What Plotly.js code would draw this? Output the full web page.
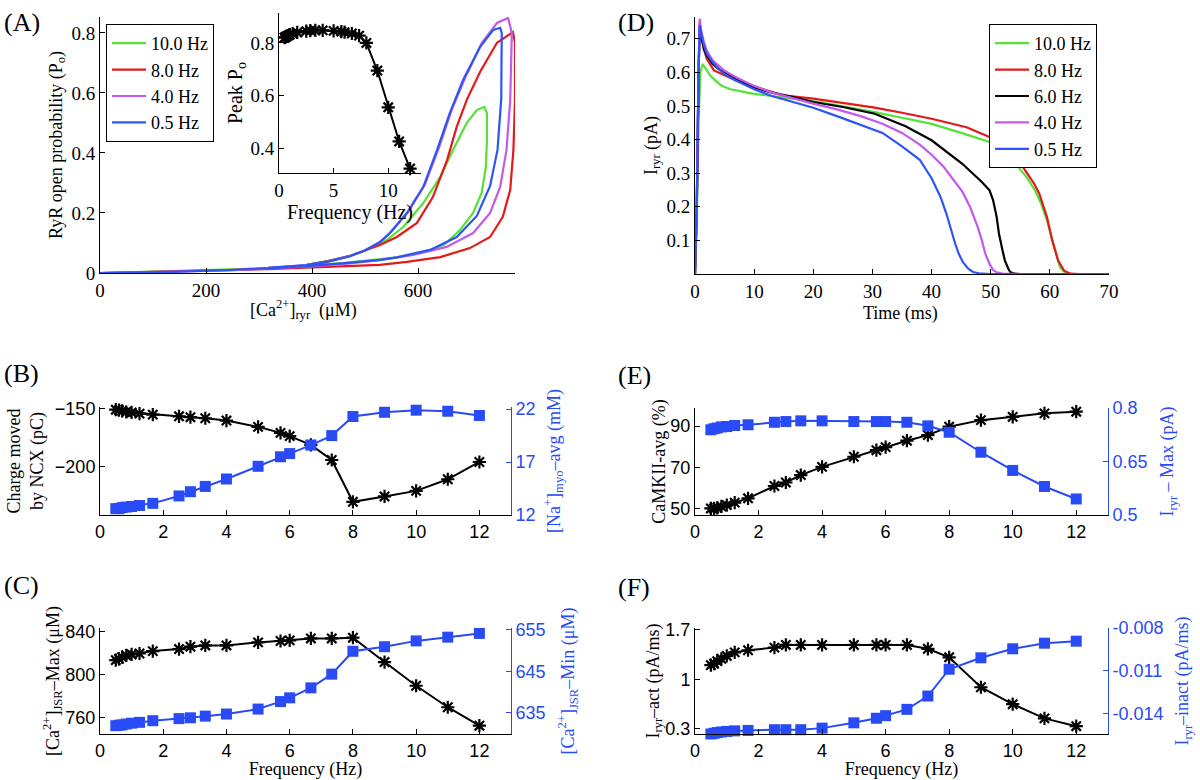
<!DOCTYPE html>
<html><head><meta charset="utf-8">
<script src="https://cdn.plot.ly/plotly-3.0.1.min.js"></script>
<style>body{margin:0;background:#fff}#g{width:1200px;height:780px}</style>
</head><body><div id="g"></div>
<script>
// ---------- DATA ----------
const legendHz = ['10.0 Hz','8.0 Hz','4.0 Hz','0.5 Hz'];
const legendHzD = ['10.0 Hz','8.0 Hz','6.0 Hz','4.0 Hz','0.5 Hz'];

// Panel A loops: [Ca2+]ryr (uM) vs Po
const caA_10 = [0,317,462,528,560,623,650,679,704,720,728,730,730,725,711,692,666,642,610,572,541,520,500,470,430,390];
const poA_10 = [0,0.016,0.034,0.045,0.052,0.077,0.095,0.143,0.2,0.267,0.353,0.44,0.533,0.553,0.543,0.5,0.41,0.32,0.233,0.153,0.11,0.09,0.075,0.056,0.04,0.027];
const caA_8 = [0,172,317,390,462,528,579,642,698,736,760,774,780,783,783,779,749,717,692,673,655,628,598,560,528,500,470,430,390];
const poA_8 = [0,0.006,0.013,0.018,0.023,0.027,0.037,0.053,0.083,0.12,0.187,0.277,0.41,0.577,0.767,0.803,0.767,0.67,0.577,0.487,0.377,0.253,0.167,0.12,0.093,0.075,0.056,0.04,0.027];
const caA_4 = [0,136,245,317,390,462,528,591,654,704,736,755,767,774,777,770,749,720,690,664,640,613,582,550,530,500,470,430,390,317];
const poA_4 = [0,0.004,0.009,0.015,0.021,0.03,0.043,0.06,0.087,0.133,0.2,0.287,0.41,0.577,0.8,0.85,0.833,0.765,0.655,0.545,0.42,0.295,0.205,0.138,0.105,0.076,0.056,0.038,0.026,0.017];
const caA_05 = [0,136,245,317,390,462,528,560,623,673,711,736,750,757,758,755,742,717,685,660,636,610,579,547,528,500,470,430,390,317];
const poA_05 = [0,0.004,0.01,0.016,0.023,0.033,0.044,0.052,0.077,0.12,0.19,0.29,0.41,0.58,0.8,0.817,0.81,0.753,0.643,0.533,0.41,0.287,0.2,0.133,0.103,0.075,0.055,0.038,0.026,0.017];

// Inset: peak Po vs frequency
const freq = [0.5,0.6,0.7,0.83,1,1.25,1.67,2.5,2.86,3.33,4,5,5.71,6,6.67,7.33,8,9,10,11,12];
const peakPo = [0.82,0.822,0.825,0.828,0.832,0.836,0.84,0.845,0.847,0.848,0.848,0.846,0.843,0.841,0.836,0.828,0.80,0.695,0.555,0.425,0.322];

// Panel D: Iryr (pA) vs time (ms)
const tD_10 = [0,0.3,0.6,0.9,1.3,1.8,2.6,3.5,4.5,6,8,9.7,12,14.9,20,25,30.4,35,40,45,49.8,52.4,54,54.9,56,57.5,58.5,59.5,60.8,61.7,62.5,63.5,70];
const iD_10 = [0,0.15,0.45,0.6,0.625,0.61,0.59,0.575,0.56,0.55,0.542,0.537,0.532,0.525,0.515,0.5,0.482,0.465,0.447,0.42,0.393,0.363,0.335,0.313,0.29,0.249,0.21,0.16,0.08,0.02,0.005,0,0];
const tD_8 = [0,0.3,0.6,0.8,1,1.5,2,3.2,5.2,7,9.7,12,14.9,20,25,30.4,35,40,45.9,49.8,52,53.6,55,56.2,57.3,58.2,59,59.5,60.4,61.4,62.4,63.5,65,70];
const iD_8 = [0,0.2,0.6,0.75,0.72,0.67,0.64,0.606,0.59,0.575,0.56,0.547,0.532,0.522,0.51,0.495,0.48,0.462,0.437,0.408,0.385,0.358,0.33,0.3,0.27,0.24,0.2,0.17,0.1,0.04,0.01,0.001,0,0];
const tD_6 = [0,0.3,0.6,0.8,1,1.5,2,3,4,5,7,10,13,17,20,25,30.4,35.6,40,45.2,48.5,49.8,50.4,51,51.4,52,52.4,53,53.3,54,55,70];
const iD_6 = [0,0.2,0.6,0.73,0.71,0.67,0.65,0.625,0.61,0.6,0.58,0.555,0.54,0.525,0.512,0.497,0.477,0.44,0.398,0.328,0.274,0.249,0.22,0.17,0.12,0.07,0.04,0.015,0.006,0.001,0,0];
const tD_4 = [0,0.3,0.6,0.8,1,1.5,2,3,4,5,7,10,13,16,20,24,28,31.7,35,38,40,42,44,45.2,46.5,47.8,48.5,49.1,49.8,50.4,51,52,55,70];
const iD_4 = [0,0.2,0.62,0.76,0.73,0.69,0.665,0.635,0.62,0.605,0.585,0.56,0.54,0.525,0.507,0.49,0.47,0.447,0.42,0.385,0.355,0.32,0.275,0.245,0.2,0.14,0.1,0.06,0.03,0.012,0.005,0.001,0,0];
const tD_05 = [0,0.3,0.6,0.8,1,1.5,2,3,4,5,7,10,13,16,20,24,28,31.7,35,38,40,41.5,42.5,43.3,44,44.6,45.3,46.2,47,48,50,70];
const iD_05 = [0,0.2,0.6,0.74,0.72,0.68,0.655,0.63,0.61,0.595,0.575,0.55,0.53,0.515,0.495,0.47,0.445,0.42,0.38,0.34,0.285,0.23,0.18,0.13,0.09,0.06,0.035,0.016,0.006,0.002,0,0];

// Panel B
const chargeNCX = [-150.6,-151,-151.7,-152.6,-153,-154,-154.9,-156.3,-157.1,-158,-160,-165.4,-170.6,-173.4,-180.9,-194,-230,-225.4,-220.6,-210.6,-195.7];
const naMyoAvg = [12.6,12.6,12.7,12.75,12.8,12.9,13.1,13.8,14.2,14.7,15.4,16.6,17.5,17.8,18.6,19.5,21.3,21.7,21.9,21.8,21.4];
// Panel E
const camkiiAvg = [50,50,50.3,51,51.6,52.8,54.9,60.9,62.6,66.2,70.2,75.1,78.3,79.8,82.9,85.6,89.7,92.9,94.5,96.2,97];
const iryrMax = [0.739,0.742,0.744,0.747,0.748,0.751,0.753,0.760,0.762,0.764,0.764,0.762,0.762,0.762,0.760,0.750,0.732,0.676,0.625,0.580,0.545];
// Panel C
const caJsrMax = [813.8,815,816.6,818.2,819.1,820,822.2,824.1,826.3,827.5,827.5,830.3,831.6,832.2,834,834,834.7,812,790,770,752.8];
const caJsrMin = [631.9,632,632.1,632.3,632.5,632.7,633.1,633.6,633.8,634.2,634.7,635.9,637.7,638.6,641,644.3,649.8,650.9,652.3,653.2,654.1];
// Panel F
const iryrAct = [1.2,1.22,1.256,1.29,1.33,1.38,1.41,1.447,1.485,1.485,1.485,1.485,1.485,1.485,1.485,1.43,1.31,0.888,0.649,0.448,0.338];
const iryrInact = [-0.0154,-0.01535,-0.0153,-0.01526,-0.01522,-0.01518,-0.01515,-0.0151,-0.0151,-0.0151,-0.01499,-0.01462,-0.0143,-0.01412,-0.01368,-0.01275,-0.01088,-0.01008,-0.00945,-0.00906,-0.00892];

// ---------- STYLE ----------
const SERIF = 'Liberation Serif, Times New Roman, serif';
const SANS = 'Liberation Sans, Arial, sans-serif';
const GREEN = 'rgb(85,225,55)', RED = 'rgb(230,25,25)', PURPLE = 'rgb(195,90,235)', BLUE = 'rgb(45,85,245)', BLACK = '#000';
const SQBLUE = 'rgb(40,75,245)';

const traces = [];
function line(x, y, color, name, xa, ya, legend) {
  traces.push({x, y, type:'scatter', mode:'lines', name: name || '', line:{color, width:2.2},
    xaxis:xa, yaxis:ya, showlegend: !!legend, legend: legend || 'legend', hoverinfo:'skip'});
}
function starLine(x, y, xa, ya) {
  traces.push({x, y, type:'scatter', mode:'lines+markers', line:{color:BLACK, width:2},
    marker:{symbol:'asterisk-open', size:11, line:{color:BLACK, width:2.2}},
    xaxis:xa, yaxis:ya, showlegend:false, cliponaxis:false, hoverinfo:'skip'});
}
function sqLine(x, y, xa, ya) {
  traces.push({x, y, type:'scatter', mode:'lines+markers', line:{color:SQBLUE, width:2},
    marker:{symbol:'square', size:11, color:SQBLUE},
    xaxis:xa, yaxis:ya, showlegend:false, cliponaxis:false, hoverinfo:'skip'});
}

// A
line(caA_10, poA_10, GREEN, legendHz[0], 'x', 'y', 'legend');
line(caA_8, poA_8, RED, legendHz[1], 'x', 'y', 'legend');
line(caA_4, poA_4, PURPLE, legendHz[2], 'x', 'y', 'legend');
line(caA_05, poA_05, BLUE, legendHz[3], 'x', 'y', 'legend');
// inset
starLine(freq, peakPo, 'x2', 'y2');
// D
line(tD_10, iD_10, GREEN, legendHzD[0], 'x3', 'y3', 'legend2');
line(tD_8, iD_8, RED, legendHzD[1], 'x3', 'y3', 'legend2');
line(tD_6, iD_6, BLACK, legendHzD[2], 'x3', 'y3', 'legend2');
line(tD_4, iD_4, PURPLE, legendHzD[3], 'x3', 'y3', 'legend2');
line(tD_05, iD_05, BLUE, legendHzD[4], 'x3', 'y3', 'legend2');
// B
sqLine(freq, naMyoAvg, 'x4', 'y5');
starLine(freq, chargeNCX, 'x4', 'y4');
// E
sqLine(freq, iryrMax, 'x5', 'y7');
starLine(freq, camkiiAvg, 'x5', 'y6');
// C
sqLine(freq, caJsrMin, 'x6', 'y9');
starLine(freq, caJsrMax, 'x6', 'y8');
// F
sqLine(freq, iryrInact, 'x7', 'y11');
starLine(freq, iryrAct, 'x7', 'y10');

const W = 1200, H = 780;
const dx = (a, b) => [a / W, b / W];
const dy = (top, bottom) => [1 - bottom / H, 1 - top / H];

function ax(domain, o) {
  return Object.assign({domain, showline:true, linecolor:'black', linewidth:1, ticks:'inside', ticklen:5,
    tickcolor:'black', showgrid:false, zeroline:false, mirror:false, fixedrange:true, automargin:false}, o);
}
const serifTick = {family:SERIF, size:19, color:'black'};
const sansTick = {family:SANS, size:18, color:'black'};
const sansTickB = {family:SANS, size:18, color:SQBLUE};
const tfont = {family:SERIF, size:18, color:'black'};
const tfontB = {family:SERIF, size:18, color:SQBLUE};
const freqTicks = [0,2,4,6,8,10,12];

const colX = [100, 511], colX2 = [695, 1108];
const rowB = [407, 515], rowC = [628, 734];

function note(text, x, y, size, anchor) {
  return {text, x:x/W, y:1-y/H, xref:'paper', yref:'paper', xanchor: anchor || 'center',
    yanchor:'middle', showarrow:false, font:{family:SERIF, size, color:'black'}};
}

const layout = {
  width:W, height:H, margin:{l:0, r:0, t:0, b:0}, paper_bgcolor:'white', plot_bgcolor:'rgba(0,0,0,0)',
  hovermode:false,
  // A
  xaxis: ax(dx(100, 515), {anchor:'y', range:[0, 783], tickvals:[0,200,400,600], tickfont:serifTick}),
  yaxis: ax(dy(17, 273), {anchor:'x', range:[0, 0.853], tickvals:[0,0.2,0.4,0.6,0.8], ticktext:['0','0.2','0.4','0.6','0.8'], tickfont:serifTick,
    title:{text:'RyR open probability (P<sub>o</sub>)', font:tfont, standoff:4}}),
  // inset
  xaxis2: ax(dx(279, 421), {anchor:'y2', range:[0, 13], tickvals:[0,5,10], tickfont:serifTick,
    title:{text:'Frequency (Hz)', font:{family:SERIF, size:20, color:'black'}, standoff:0}}),
  yaxis2: ax(dy(13, 173), {anchor:'x2', range:[0.305, 0.914], tickvals:[0.4,0.6,0.8], tickfont:serifTick,
    title:{text:'Peak P<sub>o</sub>', font:{family:SERIF, size:20, color:'black'}, standoff:2}}),
  // D
  xaxis3: ax(dx(695, 1109), {anchor:'y3', range:[0, 70], tickvals:[0,10,20,30,40,50,60,70], tickfont:serifTick}),
  yaxis3: ax(dy(17, 274), {anchor:'x3', range:[0, 0.765], tickvals:[0.1,0.2,0.3,0.4,0.5,0.6,0.7], tickfont:serifTick,
    title:{text:'I<sub>ryr</sub> (pA)', font:tfont, standoff:4}}),
  // B
  xaxis4: ax(dx(...colX), {anchor:'y4', range:[0, 13], tickvals:freqTicks, tickfont:sansTick}),
  yaxis4: ax(dy(...rowB), {anchor:'x4', range:[-241.4, -148.3], tickvals:[-200,-150], tickfont:sansTick,
    title:{text:'Charge moved<br>by NCX (pC)', font:tfont, standoff:6}}),
  yaxis5: ax(dy(...rowB), {anchor:'x4', overlaying:'y4', side:'right', range:[12, 22.2], tickvals:[12,17,22], tickfont:sansTickB,
    linecolor:SQBLUE, tickcolor:SQBLUE, title:{text:'[Na<sup>+</sup>]<sub>myo</sub>–avg (mM)', font:tfontB, standoff:12}}),
  // E
  xaxis5: ax(dx(...colX2), {anchor:'y6', range:[0, 13], tickvals:freqTicks, tickfont:sansTick}),
  yaxis6: ax(dy(408, 515), {anchor:'x5', range:[46.8, 98.8], tickvals:[50,70,90], tickfont:sansTick,
    title:{text:'CaMKII-avg (%)', font:tfont, standoff:0}}),
  yaxis7: ax(dy(408, 515), {anchor:'x5', overlaying:'y6', side:'right', range:[0.5, 0.8], tickvals:[0.5,0.65,0.8], ticktext:['0.5','0.65','0.8'], tickfont:sansTickB,
    linecolor:SQBLUE, tickcolor:SQBLUE, title:{text:'I<sub>ryr</sub> – Max (pA)', font:tfontB, standoff:13}}),
  // C
  xaxis6: ax(dx(...colX), {anchor:'y8', range:[0, 13], tickvals:freqTicks, tickfont:sansTick,
    title:{text:'Frequency (Hz)', font:tfont, standoff:0}}),
  yaxis8: ax(dy(...rowC), {anchor:'x6', range:[745.1, 843.7], tickvals:[760,800,840], tickfont:sansTick,
    title:{text:'[Ca<sup>2+</sup>]<sub>JSR</sub>–Max (μM)', font:tfont, standoff:0}}),
  yaxis9: ax(dy(...rowC), {anchor:'x6', overlaying:'y8', side:'right', range:[629.9, 655.4], tickvals:[635,645,655], tickfont:sansTickB,
    linecolor:SQBLUE, tickcolor:SQBLUE, title:{text:'[Ca<sup>2+</sup>]<sub>JSR</sub>–Min (μM)', font:tfontB, standoff:16}}),
  // F
  xaxis7: ax(dx(...colX2), {anchor:'y10', range:[0, 13], tickvals:freqTicks, tickfont:sansTick,
    title:{text:'Frequency (Hz)', font:tfont, standoff:0}}),
  yaxis10: ax(dy(...rowC), {anchor:'x7', range:[0.228, 1.724], tickvals:[0.3,1,1.7], ticktext:['0.3','1','1.7'], tickfont:sansTick,
    title:{text:'I<sub>ryr</sub>–act (pA/ms)', font:tfont, standoff:0}}),
  yaxis11: ax(dy(...rowC), {anchor:'x7', overlaying:'y10', side:'right', range:[-0.0154, -0.008], tickvals:[-0.014,-0.011,-0.008], ticktext:['-0.014','-0.011','-0.008'], tickfont:sansTickB,
    linecolor:SQBLUE, tickcolor:SQBLUE, title:{text:'I<sub>ryr</sub>–inact (pA/ms)', font:tfontB, standoff:12}}),
  legend: {x:106/W, y:1-24/H, xanchor:'left', yanchor:'top', bgcolor:'white', bordercolor:'black', borderwidth:1,
    font:{family:SERIF, size:18, color:'black'}, tracegroupgap:0, itemwidth:34},
  legend2: {x:989/W, y:1-24/H, xanchor:'left', yanchor:'top', bgcolor:'white', bordercolor:'black', borderwidth:1,
    font:{family:SERIF, size:18, color:'black'}, tracegroupgap:0, itemwidth:34},
  annotations: [
    note('(A)', 2, 22, 26, 'left'), note('(B)', 2, 373, 26, 'left'), note('(C)', 2, 585, 26, 'left'),
    note('(D)', 616, 22, 26, 'left'), note('(E)', 616, 375, 26, 'left'), note('(F)', 616, 587, 26, 'left'),
    note('[Ca<sup>2+</sup>]<sub>ryr</sub>  (μM)', 303, 310, 18),
    note('Time (ms)', 900, 313, 18)
  ]
};

Plotly.newPlot('g', traces, layout, {staticPlot:true, displayModeBar:false});
</script></body></html>
